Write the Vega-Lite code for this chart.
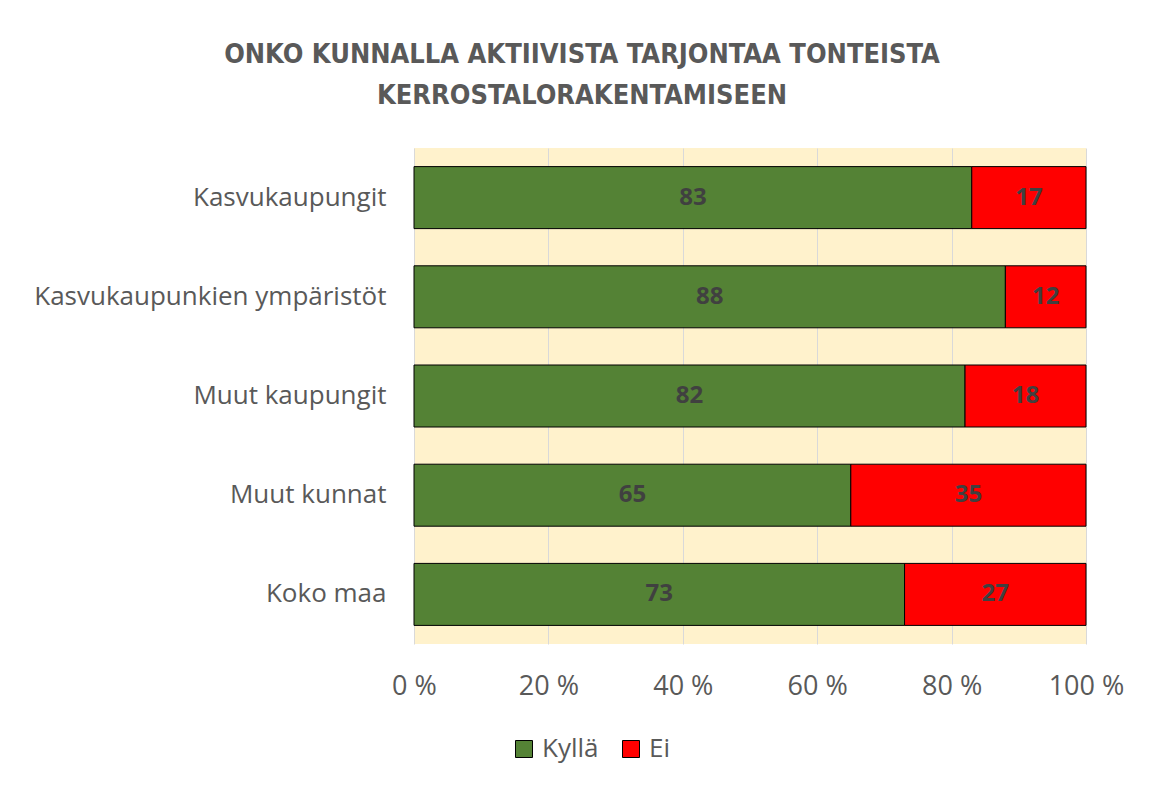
{
  "$schema": "https://vega.github.io/schema/vega-lite/v6.json",
  "width": 672,
  "height": 496,
  "autosize": {"type": "none"},
  "padding": {"left": 414, "top": 148, "right": 68, "bottom": 141},
  "background": "white",
  "title": {
    "text": ["ONKO KUNNALLA AKTIIVISTA TARJONTAA TONTEISTA", "KERROSTALORAKENTAMISEEN"],
    "font": "DejaVu Sans Condensed, sans-serif",
    "fontSize": 27,
    "fontWeight": "bold",
    "color": "#595959",
    "anchor": "middle",
    "dx": -168,
    "offset": 38,
    "lineHeight": 41
  },
  "data": {
    "values": [
      {"group": "Kasvukaupungit", "answer": "Kyllä", "value": 83},
      {"group": "Kasvukaupungit", "answer": "Ei", "value": 17},
      {"group": "Kasvukaupunkien ympäristöt", "answer": "Kyllä", "value": 88},
      {"group": "Kasvukaupunkien ympäristöt", "answer": "Ei", "value": 12},
      {"group": "Muut kaupungit", "answer": "Kyllä", "value": 82},
      {"group": "Muut kaupungit", "answer": "Ei", "value": 18},
      {"group": "Muut kunnat", "answer": "Kyllä", "value": 65},
      {"group": "Muut kunnat", "answer": "Ei", "value": 35},
      {"group": "Koko maa", "answer": "Kyllä", "value": 73},
      {"group": "Koko maa", "answer": "Ei", "value": 27}
    ]
  },
  "config": {
    "view": {"fill": "#FFF2CC", "stroke": null},
    "axis": {"labelFont": "Open Sans", "labelColor": "#595959"}
  },
  "layer": [
    {
      "mark": {"type": "bar", "stroke": "black", "strokeWidth": 1},
      "encoding": {
        "y": {
          "field": "group",
          "type": "nominal",
          "sort": ["Kasvukaupungit", "Kasvukaupunkien ympäristöt", "Muut kaupungit", "Muut kunnat", "Koko maa"],
          "title": null,
          "scale": {"paddingInner": 0.375, "paddingOuter": 0.1875},
          "axis": {"domain": false, "ticks": false, "labelFontSize": 26, "labelPadding": 28, "labelLimit": 500}
        },
        "x": {
          "field": "value",
          "type": "quantitative",
          "stack": "zero",
          "scale": {"domain": [0, 100], "nice": false},
          "title": null,
          "axis": {
            "values": [0, 20, 40, 60, 80, 100],
            "labelExpr": "datum.value + ' %'",
            "grid": true,
            "gridColor": "#D9D9D9",
            "gridWidth": 1,
            "domain": false,
            "ticks": false,
            "labelFontSize": 27,
            "labelPadding": 29,
            "labelFlush": false
          }
        },
        "color": {
          "field": "answer",
          "type": "nominal",
          "scale": {"domain": ["Kyllä", "Ei"], "range": ["#548235", "#FF0000"]},
          "legend": {
            "title": null,
            "orient": "none",
            "direction": "horizontal",
            "legendX": 97,
            "legendY": 588,
            "symbolType": "square",
            "symbolSize": 289,
            "symbolStrokeColor": "black",
            "symbolStrokeWidth": 1,
            "symbolOpacity": 1,
            "labelFont": "Open Sans",
            "labelFontSize": 26,
            "labelColor": "#595959",
            "columnPadding": 19,
            "labelOffset": 5
          }
        },
        "order": {"field": "answer", "sort": "descending"}
      }
    },
    {
      "transform": [{"filter": "datum.answer === 'Kyllä'"}],
      "mark": {"type": "text", "font": "Open Sans", "fontWeight": "bold", "fontSize": 24, "color": "#404040", "align": "center", "baseline": "middle"},
      "encoding": {
        "y": {
          "field": "group",
          "type": "nominal",
          "sort": ["Kasvukaupungit", "Kasvukaupunkien ympäristöt", "Muut kaupungit", "Muut kunnat", "Koko maa"]
        },
        "x": {"field": "value", "type": "quantitative", "stack": null, "scale": {"domain": [0, 200], "nice": false}, "axis": null},
        "text": {"field": "value", "type": "quantitative"}
      }
    },
    {
      "transform": [{"filter": "datum.answer === 'Ei'"}],
      "mark": {"type": "text", "font": "Open Sans", "fontWeight": "bold", "fontSize": 24, "color": "#404040", "align": "center", "baseline": "middle"},
      "encoding": {
        "y": {
          "field": "group",
          "type": "nominal",
          "sort": ["Kasvukaupungit", "Kasvukaupunkien ympäristöt", "Muut kaupungit", "Muut kunnat", "Koko maa"]
        },
        "x": {"field": "value", "type": "quantitative", "stack": null, "scale": {"domain": [0, 200], "nice": false, "reverse": true}, "axis": null},
        "text": {"field": "value", "type": "quantitative"}
      }
    }
  ],
  "resolve": {"scale": {"x": "independent"}}
}
